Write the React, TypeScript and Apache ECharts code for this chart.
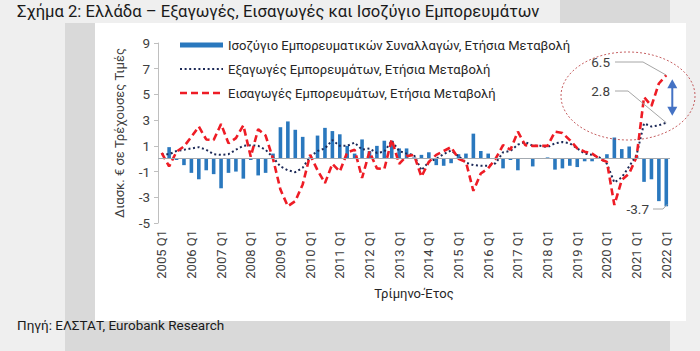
import React, { useEffect, useRef } from 'react';
import * as echarts from 'echarts';

const YEARS = [2005, 2006, 2007, 2008, 2009, 2010, 2011, 2012, 2013, 2014, 2015, 2016, 2017, 2018, 2019, 2020, 2021, 2022];
const QUARTERS = ['Q1', 'Q2', 'Q3', 'Q4'];
const CATEGORIES: string[] = [];
YEARS.forEach((y) => QUARTERS.forEach((q) => { if (y < 2022 || q === 'Q1') CATEGORIES.push(`${y} ${q}`); }));

const BALANCE = [
  0.0, 0.9, -0.1, -0.5, -1.1, -1.6, -0.9, -1.2, -2.3, -1.1, -1.0, -1.55,
  -0.1, -1.3, -1.1, 0.4, 2.45, 2.9, 2.25, 1.7, 0.1, 1.8, 2.4, 2.15,
  1.9, 1.0, 0.4, 1.5, 0.6, 1.0, 1.4, 1.4, 0.8, 0.8, 0.1, 0.3,
  0.5, -0.5, -0.55, -0.35, 0.35, 0.4, 1.95, 0.6, 0.4, 0.05, -0.75, -0.1,
  -0.9, 0.05, -0.6, 0.0, 0.1, -0.85, -0.75, -0.55, -0.65, -0.2, -0.2, 0.05,
  0.35, 1.65, 0.75, 0.95, 0.2, -1.8, -1.6, -3.3, -3.7,
];

const EXPORTS = [
  0.35, 0.35, 0.6, 0.7, 0.8, 0.9, 0.7, 0.35, 0.3, 0.35, 0.7, 1.0,
  1.05, 1.0, 0.7, 0.1, -0.6, -0.9, -1.05, -0.7, 0.15, 0.6, 0.8, 1.45,
  1.0, 1.0, 1.25, 0.7, 0.8, 0.45, 0.55, 1.4, 0.6, 0.4, 0.3, -0.9,
  -0.25, 0.0, 0.35, 0.65, 0.2, -0.3, -0.5, -0.55, -0.55, -0.35, 0.5, 0.6,
  1.1, 1.3, 1.0, 1.0, 0.9, 1.2, 1.3, 1.2, 0.8, 0.4, 0.3, 0.1,
  -0.4, -1.85, -1.45, -0.6, 0.3, 2.75, 2.5, 2.6, 2.8,
];

const IMPORTS = [
  0.45, -0.6, 0.55, 0.95, 1.7, 2.5, 1.5, 1.45, 2.7, 1.2, 1.6, 2.6,
  0.15, 2.3, 1.8, 0.0, -2.4, -3.7, -3.3, -2.0, 0.3, -0.9, -1.9, -0.4,
  -1.0, 0.5, 0.7, -1.5, 0.55, -0.75, -0.8, 1.5, -0.4, 0.2, 0.3, -1.4,
  -0.25, 0.3, 0.6, 0.9, 0.0, -0.25, -2.5, -1.15, -0.75, 0.0, 1.05, 0.7,
  2.1, 1.05, 1.0, 1.0, 1.0, 2.1, 2.0, 1.45, 0.8, 0.55, 0.4, 0.0,
  -0.25, -3.6, -1.65, -1.15, 0.15, 4.8, 4.1, 5.85, 6.5,
];

const Y_MIN = -5;
const Y_MAX = 9;
const Y_STEP = 2;

const TITLE = 'Σχήμα 2: Ελλάδα – Εξαγωγές, Εισαγωγές και Ισοζύγιο Εμπορευμάτων';
const SOURCE = 'Πηγή: ΕΛΣΤΑΤ, Eurobank Research';
const S_BAL = 'Ισοζύγιο Εμπορευματικών Συναλλαγών, Ετήσια Μεταβολή';
const S_EXP = 'Εξαγωγές Εμπορευμάτων, Ετήσια Μεταβολή';
const S_IMP = 'Εισαγωγές Εμπορευμάτων, Ετήσια Μεταβολή';
const Y_NAME = 'Διασκ. € σε Τρέχουσες Τιμές';
const X_NAME = 'Τρίμηνο-Έτος';

const FONT = 'Roboto, "Noto Sans", sans-serif';
const TXT = '#262626';
const AX = '#404040';
const C_BAL = '#2a78be';
const C_EXP = '#1c2957';
const C_IMP = '#ee1c25';

export default function App() {
  const ref = useRef<HTMLDivElement>(null);
  useEffect(() => {
    if (!ref.current) return;
    const chart = echarts.init(ref.current, undefined, { renderer: 'svg' });
    const option: any = {
      animation: false,
      backgroundColor: 'transparent',
      textStyle: { fontFamily: FONT },
      grid: { left: 158, top: 43, width: 512, height: 180, containLabel: false },
      xAxis: {
        type: 'category',
        data: CATEGORIES,
        boundaryGap: true,
        axisLine: { show: false, onZero: false },
        axisTick: { show: false },
        axisLabel: {
          rotate: 90,
          interval: 3,
          margin: 7,
          fontSize: 13,
          color: AX,
          fontFamily: FONT,
        },
        name: X_NAME,
        nameLocation: 'middle',
        nameGap: 62,
        nameTextStyle: { fontSize: 13, color: TXT, fontFamily: FONT },
      },
      yAxis: {
        type: 'value',
        min: Y_MIN,
        max: Y_MAX,
        interval: Y_STEP,
        splitLine: { show: false },
        axisLine: { show: true, lineStyle: { color: '#bfbfbf', width: 1 } },
        axisTick: { show: true, length: 4, lineStyle: { color: '#bfbfbf' } },
        axisLabel: { fontSize: 13.5, color: AX, margin: 8, fontFamily: FONT },
        name: Y_NAME,
        nameLocation: 'middle',
        nameGap: 32,
        nameRotate: 90,
        nameTextStyle: { fontSize: 13, color: AX, fontFamily: FONT },
      },
      series: [
        {
          name: S_BAL,
          type: 'bar',
          data: BALANCE,
          barWidth: 3.6,
          itemStyle: { color: C_BAL },
          markLine: {
            silent: true,
            symbol: 'none',
            label: { show: false },
            lineStyle: { color: '#a3a9b0', width: 1.2, type: 'solid' },
            data: [{ yAxis: 0 }],
          },
        },
        {
          name: S_EXP,
          type: 'line',
          data: EXPORTS,
          symbol: 'none',
          showSymbol: false,
          lineStyle: { color: C_EXP, width: 2, type: [2, 2.6] },
          itemStyle: { color: C_EXP },
        },
        {
          name: S_IMP,
          type: 'line',
          data: IMPORTS,
          symbol: 'none',
          showSymbol: false,
          lineStyle: { color: C_IMP, width: 2.6, type: [7, 4] },
          itemStyle: { color: C_IMP },
        },
      ],
    };
    chart.setOption(option);

    const last = CATEGORIES.length - 1;
    const pImp = chart.convertToPixel({ seriesIndex: 2 }, [last, IMPORTS[last]]) as number[];
    const pExp = chart.convertToPixel({ seriesIndex: 1 }, [last, EXPORTS[last]]) as number[];
    const pBal = chart.convertToPixel({ seriesIndex: 0 }, [last, BALANCE[last]]) as number[];
    const gray = '#a6a6a6';
    const arrowX = pImp[0] + 6;
    const aTop = pImp[1] + 4;
    const aBot = pExp[1] - 7;
    const legendFont = `13px ${FONT}`;
    chart.setOption({
      graphic: {
        elements: [
          { type: 'text', left: 17, top: 3, style: { text: TITLE, font: `16.6px ${FONT}`, fill: '#1a1a1a' } },
          { type: 'text', left: 17, top: 318, style: { text: SOURCE, font: `13.5px ${FONT}`, fill: '#1a1a1a' } },
          // legend
          { type: 'rect', shape: { x: 180, y: 42.5, width: 43, height: 5 }, style: { fill: C_BAL }, z: 50 },
          { type: 'text', x: 228, y: 45, style: { text: S_BAL, font: legendFont, fill: TXT, verticalAlign: 'middle' }, z: 50 },
          {
            type: 'line',
            shape: { x1: 180, y1: 69, x2: 223, y2: 69 },
            style: { stroke: C_EXP, lineWidth: 2, lineDash: [2, 2.6] },
            z: 50,
          },
          { type: 'text', x: 228, y: 69, style: { text: S_EXP, font: legendFont, fill: TXT, verticalAlign: 'middle' }, z: 50 },
          {
            type: 'line',
            shape: { x1: 180, y1: 93, x2: 223, y2: 93 },
            style: { stroke: C_IMP, lineWidth: 2.6, lineDash: [7, 4] },
            z: 50,
          },
          { type: 'text', x: 228, y: 93, style: { text: S_IMP, font: legendFont, fill: TXT, verticalAlign: 'middle' }, z: 50 },
          // annotations
          {
            type: 'ellipse',
            shape: { cx: 628, cy: 96, rx: 67, ry: 44 },
            style: { fill: 'none', stroke: '#b8383b', lineWidth: 0.8, lineDash: [2, 2] },
            z: 50,
          },
          { type: 'text', x: 610, y: 62, style: { text: '6.5', font: `13.5px ${FONT}`, fill: AX, align: 'right', verticalAlign: 'middle' }, z: 50 },
          { type: 'text', x: 610, y: 91, style: { text: '2.8', font: `13.5px ${FONT}`, fill: AX, align: 'right', verticalAlign: 'middle' }, z: 50 },
          { type: 'text', x: 649, y: 209, style: { text: '-3.7', font: `13.5px ${FONT}`, fill: AX, align: 'right', verticalAlign: 'middle' }, z: 50 },
          {
            type: 'polyline',
            shape: { points: [[615, 62], [643, 62], [pImp[0], pImp[1]]] },
            style: { stroke: gray, lineWidth: 1, fill: 'none' },
            z: 50,
          },
          {
            type: 'polyline',
            shape: { points: [[615, 91], [628, 91], [pExp[0], pExp[1]]] },
            style: { stroke: gray, lineWidth: 1, fill: 'none' },
            z: 50,
          },
          {
            type: 'polyline',
            shape: { points: [[653, 209], [663, 209], [pBal[0] + 1, pBal[1] - 2]] },
            style: { stroke: gray, lineWidth: 1, fill: 'none' },
            z: 50,
          },
          {
            type: 'line',
            shape: { x1: arrowX, y1: aTop + 8, x2: arrowX, y2: aBot - 8 },
            style: { stroke: '#4472c4', lineWidth: 2 },
            z: 50,
          },
          {
            type: 'polygon',
            shape: { points: [[arrowX, aTop], [arrowX - 5, aTop + 9], [arrowX + 5, aTop + 9]] },
            style: { fill: '#4472c4' },
            z: 50,
          },
          {
            type: 'polygon',
            shape: { points: [[arrowX, aBot], [arrowX - 5, aBot - 9], [arrowX + 5, aBot - 9]] },
            style: { fill: '#4472c4' },
            z: 50,
          },
        ],
      },
    });
    return () => chart.dispose();
  }, []);

  return (
    <div style={{ position: 'fixed', left: 0, top: 0, width: 700, height: 351, background: '#efefef', overflow: 'hidden' }}>
      <div style={{ position: 'absolute', left: 65, top: 0, width: 605, height: 351, background: '#d9d9d9' }} />
      <div style={{ position: 'absolute', left: 0, top: 0, width: 560, height: 23, background: '#efefef' }} />
      <div style={{ position: 'absolute', left: 95, top: 23, width: 591, height: 298, background: '#ffffff' }} />
      <div ref={ref} style={{ position: 'absolute', left: 0, top: 0, width: 700, height: 351 }} />
    </div>
  );
}
